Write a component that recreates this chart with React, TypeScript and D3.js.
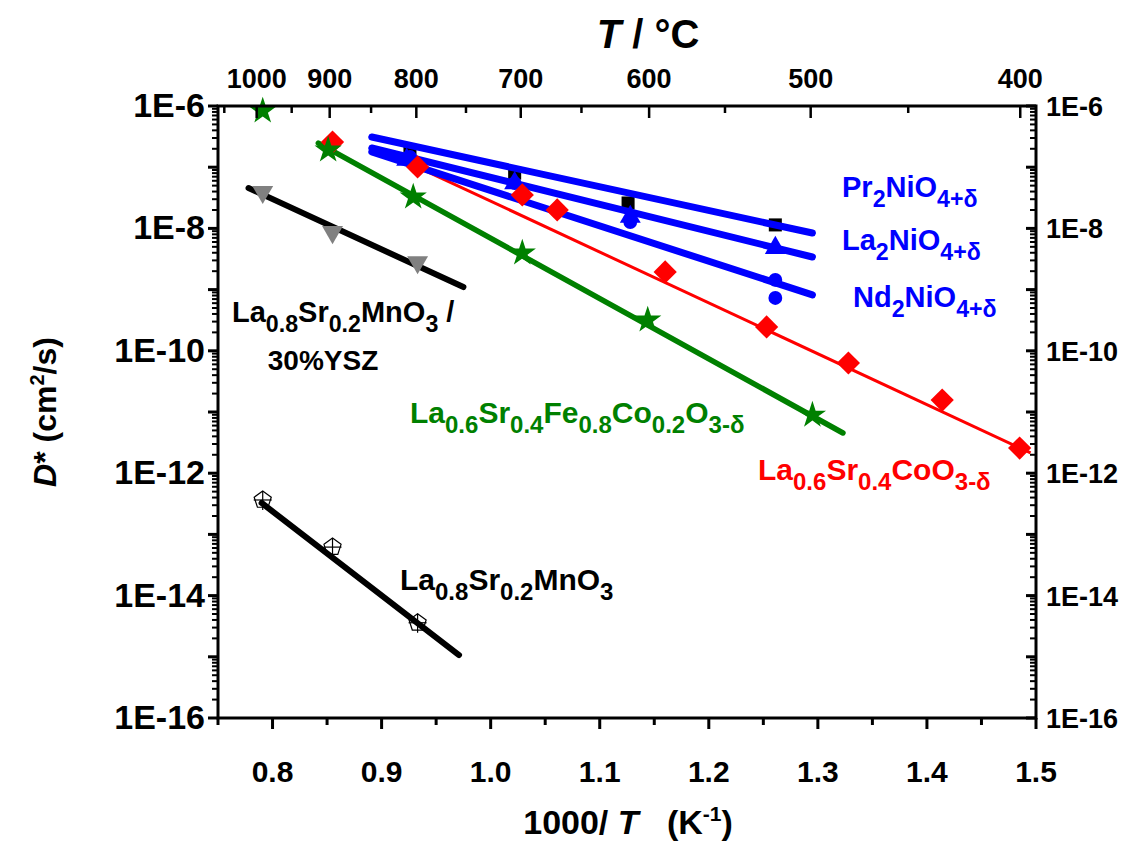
import React from "react";
import * as d3 from "d3";

// ---------- data ----------
const prX = [0.926, 1.022, 1.126, 1.261];
const prD = [1.7e-7, 8.0e-8, 2.6e-8, 1.14e-8];
const prFitX = [0.891, 1.295];
const prFitD = [3.11e-7, 8.4e-9];

const laX = [0.923, 1.022, 1.128, 1.261];
const laD = [1.32e-7, 5.5e-8, 1.55e-8, 4.8e-9];
const laFitX = [0.891, 1.295];
const laFitD = [2.06e-7, 3.41e-9];

const ndX = [0.926, 1.022, 1.128, 1.261, 1.261];
const ndD = [1.47e-7, 5.5e-8, 1.27e-8, 1.44e-9, 7.3e-10];
const ndFitX = [0.891, 1.295];
const ndFitD = [1.78e-7, 8.2e-10];

const lscfX = [0.791, 0.851, 0.929, 1.029, 1.144, 1.295];
const lscfD = [8.3e-7, 1.91e-7, 3.26e-8, 3.96e-9, 3.19e-10, 8.9e-12];
const lscfFitX = [0.842, 1.323];
const lscfFitD = [2.48e-7, 4.54e-12];

const lscX = [0.855, 0.933, 1.029, 1.061, 1.16, 1.253, 1.328, 1.414, 1.485];
const lscD = [2.58e-7, 1.01e-7, 3.52e-8, 2.0e-8, 1.94e-9, 2.45e-10, 6.32e-11, 1.57e-11, 2.58e-12];
const lscFitX = [0.925, 1.495];
const lscFitD = [1.17e-7, 2.14e-12];

const lsmYszX = [0.791, 0.855, 0.933];
const lsmYszD = [3.94e-8, 8.7e-9, 2.8e-9];
const lsmYszFitX = [0.778, 0.975];
const lsmYszFitD = [4.57e-8, 1.1e-9];

const lsmX = [0.791, 0.855, 0.933];
const lsmD = [3.65e-13, 6.2e-14, 3.6e-15];
const lsmFitX = [0.79, 0.971];
const lsmFitD = [3.26e-13, 1.07e-15];

const bottomMajor = [0.8, 0.9, 1.0, 1.1, 1.2, 1.3, 1.4, 1.5];
const bottomMinor = [0.75, 0.85, 0.95, 1.05, 1.15, 1.25, 1.35, 1.45];
const topMajorC = [1000, 900, 800, 700, 600, 500, 400];
const topMinorC = [1050, 950, 850, 750, 650, 550, 450];
const yLabelExps = [-6, -8, -10, -12, -14, -16];

// ---------- layout ----------
const W = 1128, H = 845;
const L = 218, R = 1036, T = 106, B = 718;
const FONT = "'Liberation Sans', Arial, Helvetica, sans-serif";

const x = d3.scaleLinear().domain([0.75, 1.5]).range([L, R]);
const y = d3.scaleLog().domain([1e-16, 1e-6]).range([B, T]);
const toX = (c: number) => x(1000 / (c + 273.15));

const line = d3.line<[number, number]>().x(d => x(d[0])).y(d => y(d[1]));
const zip = (a: number[], b: number[]) => a.map((v, i) => [v, b[i]] as [number, number]);

type Part = [string, number]; // 0 normal, 1 sub, 2 sup
function Formula({ parts, px, py, size, fill, anchor = "start" }: { parts: Part[]; px: number; py: number; size: number; fill: string; anchor?: string }) {
  let cur = 0;
  const sub = size * 0.8;
  return (
    <text x={px} y={py} fontFamily={FONT} fontWeight="bold" fontSize={size} fill={fill} textAnchor={anchor}>
      {parts.map(([t, k], i) => {
        const target = k === 1 ? size * 0.34 : k === 2 ? -size * 0.38 : 0;
        const dy = target - cur;
        cur = target;
        return (
          <tspan key={i} dy={dy} fontSize={k ? sub : size}>
            {t}
          </tspan>
        );
      })}
    </text>
  );
}

const starPath = d3.symbol().type(d3.symbolStar).size(230)() as string;
const squarePath = d3.symbol().type(d3.symbolSquare).size(170)() as string;
const diamondPath = d3.symbol().type(d3.symbolSquare).size(270)() as string;
const triPath = d3.symbol().type(d3.symbolTriangle).size(190)() as string;
const circPath = d3.symbol().type(d3.symbolCircle).size(150)() as string;
const pentR = 9;
const pentPath =
  d3.range(5).map((k, i) => {
    const a = (-90 + 72 * k) * Math.PI / 180;
    return (i ? "L" : "M") + (pentR * Math.cos(a)).toFixed(2) + "," + (pentR * Math.sin(a)).toFixed(2);
  }).join("") + "Z";

export default function App() {
  const decades = d3.range(-16, -5);
  const minorY: number[] = [];
  decades.slice(0, -1).forEach(e => { for (let m = 2; m <= 9; m++) minorY.push(m * Math.pow(10, e)); });

  return (
    <svg width={W} height={H} style={{ position: "absolute", left: 0, top: 0, background: "#fff" }}>
      {/* fit lines */}
      <path d={line(zip(lsmFitX, lsmFitD)) as string} stroke="#000" strokeWidth={6} fill="none" strokeLinecap="round" />
      <path d={line(zip(lsmYszFitX, lsmYszFitD)) as string} stroke="#000" strokeWidth={6} fill="none" strokeLinecap="round" />
      <path d={line(zip(lscfFitX, lscfFitD)) as string} stroke="#008000" strokeWidth={5.5} fill="none" strokeLinecap="round" />
      <path d={line(zip(lscFitX, lscFitD)) as string} stroke="#ff0000" strokeWidth={3} fill="none" />

      {/* markers */}
      {zip(lsmYszX, lsmYszD).map((d, i) => (
        <path key={"t" + i} d={triPath} transform={`translate(${x(d[0])},${y(d[1])}) rotate(180)`} fill="#808080" />
      ))}
      {zip(lsmX, lsmD).map((d, i) => (
        <g key={"p" + i} transform={`translate(${x(d[0])},${y(d[1])})`} stroke="#000" strokeWidth={1.2} fill="none">
          <path d={pentPath} />
          <line x1={0} y1={-pentR} x2={0} y2={pentR + 1} />
          <line x1={-pentR} y1={0} x2={pentR} y2={0} />
        </g>
      ))}
      {zip(prX, prD).map((d, i) => (
        <path key={"s" + i} d={squarePath} transform={`translate(${x(d[0])},${y(d[1])})`} fill="#000" />
      ))}
      {zip(ndX, ndD).map((d, i) => (
        <path key={"c" + i} d={circPath} transform={`translate(${x(d[0])},${y(d[1])})`} fill="#0000ff" />
      ))}
      {zip(laX, laD).map((d, i) => (
        <path key={"u" + i} d={triPath} transform={`translate(${x(d[0])},${y(d[1])})`} fill="#0000ff" />
      ))}
      <path d={line(zip(prFitX, prFitD)) as string} stroke="#0000ff" strokeWidth={7} fill="none" strokeLinecap="round" />
      <path d={line(zip(laFitX, laFitD)) as string} stroke="#0000ff" strokeWidth={7} fill="none" strokeLinecap="round" />
      <path d={line(zip(ndFitX, ndFitD)) as string} stroke="#0000ff" strokeWidth={7} fill="none" strokeLinecap="round" />
      {zip(lscX, lscD).map((d, i) => (
        <path key={"d" + i} d={diamondPath} transform={`translate(${x(d[0])},${y(d[1])}) rotate(45)`} fill="#ff0000" />
      ))}
      {zip(lscfX, lscfD).map((d, i) => (
        <path key={"st" + i} d={starPath} transform={`translate(${x(d[0])},${y(d[1])})`} fill="#008000" />
      ))}

      {/* frame */}
      <rect x={L} y={T} width={R - L} height={B - T} fill="none" stroke="#000" strokeWidth={3} />

      {/* bottom ticks (outward) */}
      {bottomMajor.map(v => <line key={"bM" + v} x1={x(v)} x2={x(v)} y1={B} y2={B + 11} stroke="#000" strokeWidth={3} />)}
      {bottomMinor.map(v => <line key={"bm" + v} x1={x(v)} x2={x(v)} y1={B} y2={B + 7} stroke="#000" strokeWidth={3} />)}
      {bottomMajor.map(v => (
        <text key={"bl" + v} x={x(v)} y={782} textAnchor="middle" fontFamily={FONT} fontWeight="bold" fontSize={30}>{v.toFixed(1)}</text>
      ))}

      {/* top ticks (inward) */}
      {topMajorC.map(c => <line key={"tM" + c} x1={toX(c)} x2={toX(c)} y1={T} y2={T + 12} stroke="#000" strokeWidth={2.5} />)}
      {topMinorC.map(c => <line key={"tm" + c} x1={toX(c)} x2={toX(c)} y1={T} y2={T + 7} stroke="#000" strokeWidth={2.5} />)}
      {topMajorC.map(c => (
        <text key={"tl" + c} x={toX(c)} y={88} textAnchor="middle" fontFamily={FONT} fontWeight="bold" fontSize={27}>{c}</text>
      ))}

      {/* left ticks (outward) and right ticks (inward) */}
      {decades.map(e => (
        <g key={"yM" + e}>
          <line x1={L - 10} x2={L} y1={y(Math.pow(10, e))} y2={y(Math.pow(10, e))} stroke="#000" strokeWidth={3} />
          <line x1={R - 10} x2={R} y1={y(Math.pow(10, e))} y2={y(Math.pow(10, e))} stroke="#000" strokeWidth={3} />
        </g>
      ))}
      {minorY.map((v, i) => (
        <g key={"ym" + i}>
          <line x1={L - 6} x2={L} y1={y(v)} y2={y(v)} stroke="#000" strokeWidth={2} />
          <line x1={R - 6} x2={R} y1={y(v)} y2={y(v)} stroke="#000" strokeWidth={2} />
        </g>
      ))}
      {yLabelExps.map(e => (
        <g key={"yl" + e}>
          <text x={205} y={y(Math.pow(10, e)) + 11} textAnchor="end" fontFamily={FONT} fontWeight="bold" fontSize={34}>{"1E" + e}</text>
          <text x={1046} y={y(Math.pow(10, e)) + 10} textAnchor="start" fontFamily={FONT} fontWeight="bold" fontSize={27}>{"1E" + e}</text>
        </g>
      ))}

      {/* axis titles */}
      <text x={648} y={48} textAnchor="middle" fontFamily={FONT} fontWeight="bold" fontSize={40}>
        <tspan fontStyle="italic">T</tspan> / °C
      </text>
      <text x={628} y={834} textAnchor="middle" fontFamily={FONT} fontWeight="bold" fontSize={34}>
        1000/ <tspan fontStyle="italic">T</tspan>{"\u00a0\u00a0\u00a0"}(K<tspan dy={-13} fontSize={21}>-1</tspan><tspan dy={13}>)</tspan>
      </text>
      <text transform="translate(56,412) rotate(-90)" textAnchor="middle" fontFamily={FONT} fontWeight="bold" fontSize={32}>
        <tspan fontStyle="italic">D</tspan>* (cm<tspan dy={-12} fontSize={20}>2</tspan><tspan dy={12}>/s)</tspan>
      </text>

      {/* series labels */}
      <Formula parts={[["Pr", 0], ["2", 1], ["NiO", 0], ["4+δ", 1]]} px={842} py={197} size={29} fill="#0000ff" />
      <Formula parts={[["La", 0], ["2", 1], ["NiO", 0], ["4+δ", 1]]} px={842} py={250} size={29} fill="#0000ff" />
      <Formula parts={[["Nd", 0], ["2", 1], ["NiO", 0], ["4+δ", 1]]} px={853} py={307} size={29} fill="#0000ff" />
      <Formula parts={[["La", 0], ["0.8", 1], ["Sr", 0], ["0.2", 1], ["MnO", 0], ["3", 1], [" /", 0]]} px={232} py={322} size={29} fill="#000" />
      <text x={323} y={370} textAnchor="middle" fontFamily={FONT} fontWeight="bold" fontSize={28}>30%YSZ</text>
      <Formula parts={[["La", 0], ["0.6", 1], ["Sr", 0], ["0.4", 1], ["Fe", 0], ["0.8", 1], ["Co", 0], ["0.2", 1], ["O", 0], ["3-δ", 1]]} px={410} py={423} size={30} fill="#008000" />
      <Formula parts={[["La", 0], ["0.6", 1], ["Sr", 0], ["0.4", 1], ["CoO", 0], ["3-δ", 1]]} px={758} py={480} size={30} fill="#ff0000" />
      <Formula parts={[["La", 0], ["0.8", 1], ["Sr", 0], ["0.2", 1], ["MnO", 0], ["3", 1]]} px={400} py={590} size={30} fill="#000" />
    </svg>
  );
}
